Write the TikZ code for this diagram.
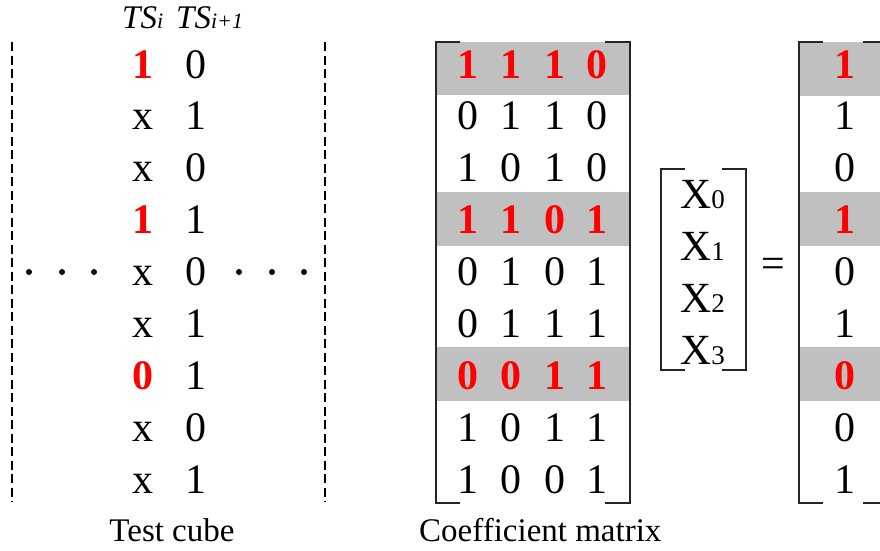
\documentclass[tikz,border=0pt]{standalone}
\usepackage{fontspec}
\setmainfont{Liberation Serif}
\definecolor{bandgray}{RGB}{192,192,192}
\begin{document}
\begin{tikzpicture}[x=1pt,y=-1pt,
  num/.style={anchor=base, inner sep=0pt, font=\fontsize{42}{42}\selectfont},
  hot/.style={num, text=red, font=\fontsize{42}{42}\selectfont\bfseries},
  hdr/.style={anchor=base west, inner sep=0pt, font=\fontsize{33}{33}\selectfont\itshape},
  xv/.style={anchor=base west, inner sep=0pt, font=\fontsize{43}{43}\selectfont},
  caption/.style={anchor=base, inner sep=0pt, font=\fontsize{33}{33}\selectfont},
  band/.style={fill=bandgray, draw=none},
  brk/.style={line width=1.5pt, draw=black!85},
  guide/.style={line width=1.3pt, dash pattern=on 9pt off 4.5pt},
  dotmark/.style={fill=black}
]
\useasboundingbox (0,0) rectangle (880,550);
\clip (0,0) rectangle (880,550);

% ---------- Test cube ----------
\draw[guide] (12,42) -- (12,502);
\draw[guide] (325,42) -- (325,502);
\node[hdr] (tsi)  at (122,28) {TS{\fontsize{22}{22}\selectfont i}};
\node[hdr] (tsii) at (176,28) {TS{\fontsize{22}{22}\selectfont i+1}};
\foreach \s/\a/\b [count=\k] in {hot/1/0, num/x/1, num/x/0, hot/1/1, num/x/0,
                                 num/x/1, hot/0/1, num/x/0, num/x/1}{
  \node[\s]  (tc\k a) at (143,{78+(\k-1)*51.9}) {\a};
  \node[num] (tc\k b) at (196,{78+(\k-1)*51.9}) {\b};
}
\foreach \px in {29,62,94,239,272,304}
  \fill[dotmark] (\px,272) circle (3);
\node[caption] (cubecap) at (172,541) {Test cube};

% ---------- Coefficient matrix ----------
\fill[band] (436,42) rectangle (630,95);
\fill[band] (436,192) rectangle (631,246);
\fill[band] (436,347) rectangle (630,401);
\draw[brk] (460,42) -- (436,42) -- (436,503) -- (460,503);
\draw[brk] (605,42) -- (630,42) -- (630,503) -- (605,503);
\foreach \s/\a/\b/\c/\d [count=\k] in {hot/1/1/1/0, num/0/1/1/0, num/1/0/1/0,
    hot/1/1/0/1, num/0/1/0/1, num/0/1/1/1, hot/0/0/1/1, num/1/0/1/1, num/1/0/0/1}{
  \node[\s] (m\k a) at (468,{78+(\k-1)*51.9}) {\a};
  \node[\s] (m\k b) at (511,{78+(\k-1)*51.9}) {\b};
  \node[\s] (m\k c) at (555,{78+(\k-1)*51.9}) {\c};
  \node[\s] (m\k d) at (597,{78+(\k-1)*51.9}) {\d};
}
\node[caption, anchor=base west] (matcap) at (419,541) {Coefficient matrix};

% ---------- Unknown vector ----------
\draw[brk] (685,169) -- (661,169) -- (661,370) -- (685,370);
\draw[brk] (722,169) -- (746,169) -- (746,370) -- (722,370);
\foreach \i in {0,...,3}
  \node[xv] (x\i) at (680,{208+\i*52}) {X{\fontsize{27}{27}\selectfont\i}};
\node[num, anchor=center] (eq) at (773,268) {=};

% ---------- Result vector ----------
\fill[band] (799,42) rectangle (890,96);
\fill[band] (799,192) rectangle (890,246);
\fill[band] (799,347) rectangle (890,401);
\draw[brk] (823,42) -- (799,42) -- (799,503) -- (823,503);
\draw[brk] (863,42) -- (887,42) -- (887,503) -- (863,503);
\foreach \s/\v [count=\k] in {hot/1, num/1, num/0, hot/1, num/0,
                              num/1, hot/0, num/0, num/1}
  \node[\s] (r\k) at (845,{78+(\k-1)*51.9}) {\v};
\end{tikzpicture}
\end{document}
